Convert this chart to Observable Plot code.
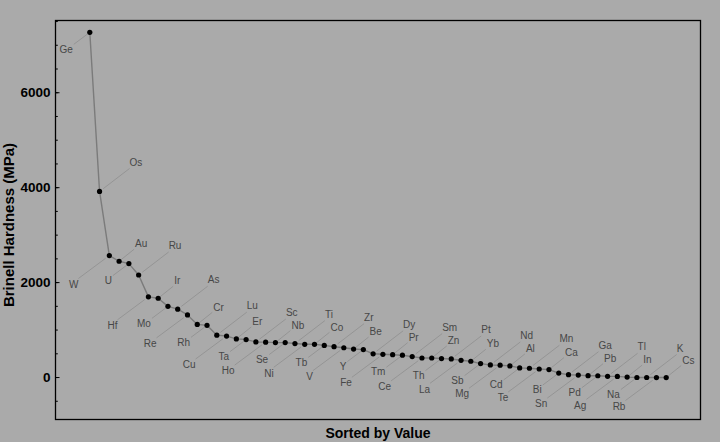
<!DOCTYPE html>
<html><head><meta charset="utf-8">
<script src="https://cdn.jsdelivr.net/npm/d3@7"></script>
<script src="https://cdn.jsdelivr.net/npm/@observablehq/plot@0.6"></script>
<style>html,body{margin:0;padding:0;background:#aaaaaa;}</style>
</head><body><div id="chart"></div>
<script>
// Elements sorted by Brinell hardness (descending)
const elements = ["Ge","Os","W","Au","U","Ru","Hf","Ir","Mo","As","Re","Cr","Rh","Lu","Cu","Er","Ta","Sc","Ho","Nb","Se","Ti","Ni","Co","Tb","Zr","V","Be","Y","Dy","Fe","Pr","Tm","Sm","Ce","Zn","Th","Pt","La","Yb","Sb","Nd","Mg","Al","Cd","Mn","Te","Ca","Bi","Ga","Sn","Pb","Pd","Tl","Ag","In","Na","K","Rb","Cs"];
const hardness = [7273,3920,2570,2450,2400,2160,1700,1670,1500,1440,1320,1120,1100,893,874,814,800,750,746,736,736,716,700,700,677,650,628,600,589,500,490,481,471,441,412,412,400,392,363,343,294,265,260,245,203,196,180,167,94.2,60,51,38.3,37.3,26.4,24.5,8.83,0.69,0.363,0.216,0.14];
const yTicks = [0, 2000, 4000, 6000];
const yMinorTicks = [-500,0,500,1000,1500,2000,2500,3000,3500,4000,4500,5000,5500,6000,6500,7000,7500];
const xLabel = "Sorted by Value";
const yLabel = "Brinell Hardness (MPa)";

const data = elements.map((el, k) => ({rank: k + 1, el, v: hardness[k]}));

const layout = {
  width: 720, height: 442,
  marginLeft: 55, marginRight: 20, marginTop: 20, marginBottom: 23,
  x: {domain: [-2.51, 63.51], axis: null},
  y: {domain: [-884, 7522], axis: null},
  style: {background: "#aaaaaa", fontFamily: "'Liberation Sans', Arial, Helvetica, sans-serif", overflow: "visible"}
};

// probe plot to read the library's scales (for pixel offsets of callout leaders/ticks)
const probe = Plot.plot({...layout, marks: [Plot.dot(data, {x: "rank", y: "v"})]});
const sx = probe.scale("x"), sy = probe.scale("y");
const px = d3.scaleLinear(sx.domain, sx.range);
const py = d3.scaleLinear(sy.domain, sy.range);

const groups = [
  {m: 1, ex: -16, ey: 12, anchor: "end", dx: -17, dy: 17},
  {m: 2, ex: 30, ey: -23, anchor: "start", dx: 30, dy: -29},
  {m: 3, ex: -31, ey: 23, anchor: "end", dx: -31, dy: 29},
  {m: 0, ex: 15, ey: -12, anchor: "start", dx: 16, dy: -17}
];
const groupOf = d => groups.find(g => g.m === d.rank % 4);
const off = (d, f) => {
  const g = groupOf(d);
  return {x: px.invert(px(d.rank) + f * g.ex), y: py.invert(py(d.v) + f * g.ey)};
};

const x0 = sx.domain[0];
const tickEnd = len => px.invert(px(x0) + len);

const chart = Plot.plot({
  ...layout,
  marks: [
    Plot.ruleY(yMinorTicks, {y: d => d, x1: x0, x2: tickEnd(2.8), stroke: "black", strokeWidth: 1}),
    Plot.ruleY(yTicks, {y: d => d, x1: x0, x2: tickEnd(4.5), stroke: "black", strokeWidth: 1}),
    Plot.axisY(yTicks, {tickSize: 0, tickPadding: 5, tickFormat: d3.format("d"), fontSize: 13.5, fontWeight: "bold", fill: "black", label: null}),
    Plot.link(data, {
      x1: d => off(d, 0.12).x, y1: d => off(d, 0.12).y,
      x2: d => off(d, 1).x, y2: d => off(d, 1).y,
      stroke: "#929292", strokeWidth: 0.9
    }),
    Plot.line(data, {x: "rank", y: "v", stroke: "#7b7b7b", strokeWidth: 1.4}),
    Plot.dot(data, {x: "rank", y: "v", r: 2.6, fill: "black", stroke: "none"}),
    ...groups.map(g => Plot.text(data.filter(d => d.rank % 4 === g.m), {
      x: "rank", y: "v", text: "el", textAnchor: g.anchor, dx: g.dx, dy: g.dy,
      fontSize: 10, fill: "#474747"
    })),
    Plot.frame({stroke: "black", strokeWidth: 1.3}),
    Plot.text([xLabel], {text: d => d, frameAnchor: "bottom", textAnchor: "middle", lineAnchor: "middle", dy: 14, fontSize: 14, fontWeight: "bold", fill: "black"}),
    Plot.text([yLabel], {text: d => d, frameAnchor: "left", textAnchor: "middle", lineAnchor: "middle", rotate: -90, dx: -46, dy: 5, fontSize: 15, fontWeight: "bold", fill: "black"})
  ]
});
document.getElementById("chart").appendChild(chart);
</script>
</body></html>
